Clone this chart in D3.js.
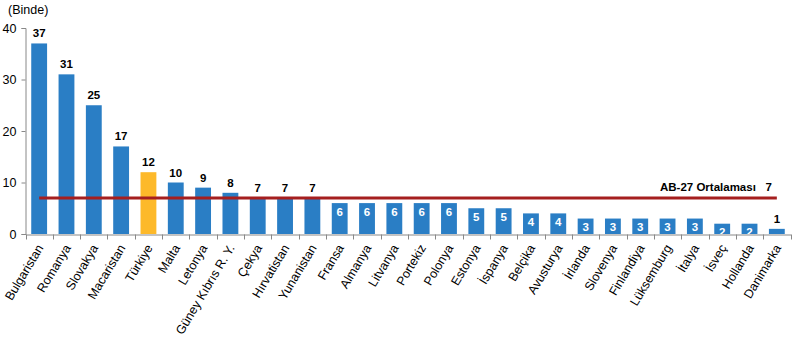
<!DOCTYPE html>
<html><head><meta charset="utf-8">
<script src="https://cdn.jsdelivr.net/npm/d3@7"></script>
<style>body{margin:0;background:#fff}svg{font-family:"Liberation Sans",Arial,sans-serif}</style>
</head><body><svg id="c" width="797" height="337"></svg>
<script>
const categories=["Bulgaristan","Romanya","Slovakya","Macaristan","Türkiye","Malta","Letonya","Güney Kıbrıs R. Y.","Çekya","Hırvatistan","Yunanistan","Fransa","Almanya","Litvanya","Portekiz","Polonya","Estonya","İspanya","Belçika","Avusturya","İrlanda","Slovenya","Finlandiya","Lüksemburg","İtalya","İsveç","Hollanda","Danimarka"];
const values=[37,31,25,17,12,10,9,8,7,7,7,6,6,6,6,6,5,5,4,4,3,3,3,3,3,2,2,1];
const average=7;
const avgLabel="AB-27 Ortalaması";
const yTicks=[0,10,20,30,40];
const unitLabel="(Binde)";

const svg=d3.select("#c");
const x=d3.scaleBand().domain(categories).range([25.5,790.5]).paddingInner(0.42).paddingOuter(0.21);
const y=d3.scaleLinear().domain([0,40]).range([234,28]);

// bars
svg.selectAll("rect.bar").data(categories).join("rect")
 .attr("x",d=>x(d)).attr("width",x.bandwidth())
 .attr("y",(d,i)=>y(values[i])).attr("height",(d,i)=>y(0)-y(values[i]))
 .attr("fill",d=>d==="Türkiye"?"#FDB92A":"#2A7EC5");

// average line
const c0=x(categories[0])+x.bandwidth()/2, c1=x(categories[categories.length-1])+x.bandwidth()/2;
svg.append("line").attr("x1",c0).attr("x2",c1).attr("y1",y(average)).attr("y2",y(average))
 .attr("stroke","#A51F1F").attr("stroke-width",3);
svg.append("text").attr("x",c1-5).attr("y",y(average)-7).attr("text-anchor","end")
 .attr("font-size",11.5).attr("font-weight","bold").attr("fill","#000")
 .style("white-space","pre")
 .text(avgLabel+"   "+average);

// value labels
svg.selectAll("text.val").data(categories).join("text")
 .attr("text-anchor","middle").attr("font-size",11.5).attr("font-weight","bold")
 .attr("x",d=>x(d)+x.bandwidth()/2)
 .attr("y",(d,i)=>{const v=values[i];return (v<=6&&v>1)?y(v)+12.5:y(v)-6;})
 .attr("fill",(d,i)=>{const v=values[i];return (v<=6&&v>1)?"#fff":"#000";})
 .text((d,i)=>values[i]);

// y axis
const ya=svg.append("g").attr("transform","translate(25.5,0)")
 .call(d3.axisLeft(y).tickValues(yTicks).tickSize(4).tickPadding(5));
ya.select(".domain").attr("stroke","#888");
ya.selectAll(".tick line").attr("stroke","#888");
ya.selectAll(".tick text").attr("font-size",12.5).attr("fill","#000").attr("font-family","Liberation Sans, Arial, sans-serif");

// x axis
const xa=svg.append("g").attr("transform","translate(0,234.5)")
 .call(d3.axisBottom(x).tickSize(0).tickPadding(0));
xa.select(".domain").attr("stroke","#888");
xa.selectAll(".tick text").attr("font-size",12.5).attr("fill","#000").attr("font-family","Liberation Sans, Arial, sans-serif")
 .attr("text-anchor","end").attr("dy","0.35em")
 .attr("transform","translate(1,11) rotate(-59)");
// tick marks between categories
const step=x.step();
const bounds=d3.range(categories.length+1).map(i=>x.range()[0]+i*step);
xa.selectAll("line.sep").data(bounds).join("line").attr("class","sep")
 .attr("x1",d=>Math.round(d)+0.5).attr("x2",d=>Math.round(d)+0.5).attr("y1",0).attr("y2",5).attr("stroke","#888");

svg.append("text").attr("x",8).attr("y",14).attr("font-size",12.5).attr("fill","#000").text(unitLabel);
</script></body></html>
